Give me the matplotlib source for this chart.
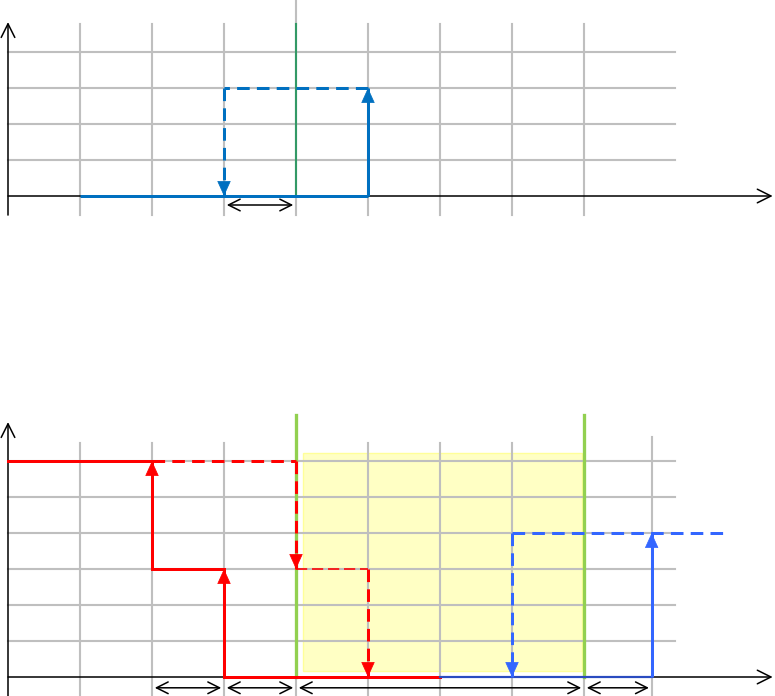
"""
Two step diagrams on a plain grid: one blue step on top,
red and blue steps with a yellow window below.
"""

import matplotlib
matplotlib.use('Agg')
import matplotlib.pyplot as plt
from matplotlib.patches import FancyArrowPatch, Rectangle

# ---- data (grid units: one column = 1, one row = 1) ----
top_cols = [1, 2, 3, 4, 5, 6, 7, 8]
top_rows = [1, 2, 3, 4]
top_mark_x = 4

top_solid_x = [1, 5]
top_solid_y = [0, 0]
top_rise = [(5, 0), (5, 3)]
top_dash_x = [5, 3]
top_dash_y = [3, 3]
top_drop = [(3, 3), (3, 0)]
top_spans = [(3, 4)]

bot_cols = [1, 2, 3, 5, 6, 7]
bot_last_col = 8.94
bot_rows = [1, 2, 3, 4, 5, 6]
bot_marks_x = [4, 8]
window = (4.1, 0.17, 7.97, 6.22)   # x0, y0, x1, y1

red_solid = [([0, 2], [6, 6]), ([2, 3], [3, 3]), ([3, 6], [0, 0])]
red_rises = [[(2, 3), (2, 6)], [(3, 0), (3, 3)]]
red_dash_x = [2, 4]
red_dash_y = [6, 6]
red_drops = [[(4, 6), (4, 3)], [(5, 3), (5, 0)]]
red_thin_x = [4, 5]
red_thin_y = [3, 3]

blue_base_x = [6, 8.94]
blue_base_y = [0, 0]
blue_dash_x = [7, 10]
blue_dash_y = [4, 4]
blue_drop = [(7, 4), (7, 0)]
blue_rise = [(8.94, 0), (8.94, 4)]
bot_spans = [(2, 3), (3, 4), (4, 8), (8, 8.94)]

# ---- styles ----
W, H = 775, 696
PX = 72 / 100.0          # points per pixel at dpi 100
GRID = '#BFBFBF'
GLW = 1.5 * PX * 1.4
DASH = (0, (4.2, 2.4))


def panel(top_px, bot_px, origin_px):
    # axes spanning full width, in grid units (72 px per col, 36 px per row)
    ax = fig.add_axes([0, 1 - bot_px / H, 1, (bot_px - top_px) / H])
    ax.set_xlim(-8 / 72, (W - 8) / 72)
    ax.set_ylim((origin_px - bot_px) / 36, (origin_px - top_px) / 36)
    ax.axis('off')
    return ax


def head(ax, p0, p1, color):
    # solid filled arrow head at p1, pointing from p0
    x0, y0 = p0
    x1, y1 = p1
    dx, dy = x1 - x0, y1 - y0
    n = (dx ** 2 + dy ** 2) ** 0.5
    back = (x1 - dx / n * 0.05, y1 - dy / n * 0.05)
    ax.add_patch(FancyArrowPatch(back, p1, arrowstyle='-|>,head_length=0.55,head_width=0.25',
                                 mutation_scale=18, color=color, lw=0.5,
                                 shrinkA=0, shrinkB=0, zorder=6))


def arrow(ax, seg, color, lw, ls='-'):
    (x0, y0), (x1, y1) = seg
    ax.plot([x0, x1], [y0, y1], color=color, lw=lw, ls=ls, zorder=5,
            solid_capstyle='butt', dash_capstyle='butt')
    head(ax, seg[0], seg[1], color)


def span(ax, a, b, y):
    ax.annotate('', xy=(b, y), xytext=(a, y),
                arrowprops=dict(arrowstyle='<->,head_length=0.6,head_width=0.3',
                                color='black', lw=1.1, shrinkA=2, shrinkB=2,
                                mutation_scale=14))


def axes_arrows(ax, ybot, ytop):
    ax.annotate('', xy=(0, ytop), xytext=(0, ybot),
                arrowprops=dict(arrowstyle='->,head_length=0.7,head_width=0.35',
                                color='black', lw=1.1, shrinkA=0, shrinkB=0,
                                mutation_scale=14), zorder=4)
    ax.annotate('', xy=(10.62, 0), xytext=(0, 0),
                arrowprops=dict(arrowstyle='->,head_length=0.7,head_width=0.35',
                                color='black', lw=1.1, shrinkA=0, shrinkB=0,
                                mutation_scale=14), zorder=4)


fig = plt.figure(figsize=(W / 100, H / 100), dpi=100, facecolor='white')

# ================= top panel =================
ax1 = panel(0, 230, 196)
ylo = -0.53
for y in top_rows:
    ax1.plot([0, 9.26], [y, y], color=GRID, lw=GLW, zorder=1)
for x in top_cols:
    ax1.plot([x, x], [ylo, 4.78], color=GRID, lw=GLW, zorder=1)
ax1.plot([top_mark_x] * 2, [4.78, ax1.get_ylim()[1]], color=GRID, lw=GLW, zorder=1)
ax1.plot([top_mark_x] * 2, [0, 4.78], color='#339966', lw=GLW, zorder=2)

axes_arrows(ax1, ylo, 4.83)

blue = '#0070C0'
ax1.plot(top_solid_x, top_solid_y, color=blue, lw=3 * PX, zorder=5, solid_capstyle='butt')
arrow(ax1, top_rise, blue, 3 * PX)
ax1.plot(top_dash_x, top_dash_y, color=blue, lw=3 * PX, ls=DASH, zorder=5)
arrow(ax1, top_drop, blue, 3 * PX, DASH)
for a, b in top_spans:
    span(ax1, a, b, -0.25)

# ================= bottom panel =================
ax2 = panel(400, 696, 677)
ylo = ax2.get_ylim()[0]
x0, y0, x1, y1 = window
ax2.add_patch(Rectangle((x0, y0), x1 - x0, y1 - y0, facecolor='#FFFFC4',
                        edgecolor='#FFFF99', lw=1, zorder=0))
for y in bot_rows:
    ax2.plot([0, 9.26], [y, y], color=GRID, lw=GLW, zorder=1)
for x in bot_cols:
    ax2.plot([x, x], [ylo, 6.5], color=GRID, lw=GLW, zorder=1)
ax2.plot([bot_last_col] * 2, [ylo, 6.67], color=GRID, lw=GLW, zorder=1)
for x in bot_marks_x:
    ax2.plot([x, x], [ylo, 0], color=GRID, lw=GLW, zorder=1)
    ax2.plot([x, x], [0, 7.28], color='#92D050', lw=3 * PX * 1.1, zorder=2)

axes_arrows(ax2, ylo, 7.08)

red = '#FF0000'
for xs, ys in red_solid:
    ax2.plot(xs, ys, color=red, lw=3 * PX, zorder=5, solid_capstyle='projecting')
for seg in red_rises:
    arrow(ax2, seg, red, 3 * PX)
ax2.plot(red_dash_x, red_dash_y, color=red, lw=3 * PX, ls=DASH, zorder=5)
for seg in red_drops:
    arrow(ax2, seg, red, 3 * PX, DASH)
ax2.plot(red_thin_x, red_thin_y, color=red, lw=1.6 * PX, ls=(0, (7, 3)), zorder=5)

bl2 = '#3366FF'
ax2.plot(blue_base_x, blue_base_y, color='#2A4BC0', lw=2.2 * PX, zorder=5)
ax2.plot(blue_dash_x, blue_dash_y, color=bl2, lw=3 * PX, ls=DASH, zorder=5)
arrow(ax2, blue_drop, bl2, 3 * PX, DASH)
arrow(ax2, blue_rise, bl2, 3 * PX)
for a, b in bot_spans:
    span(ax2, a, b, -0.3)

fig.savefig('out.png', dpi=100, facecolor='white')
